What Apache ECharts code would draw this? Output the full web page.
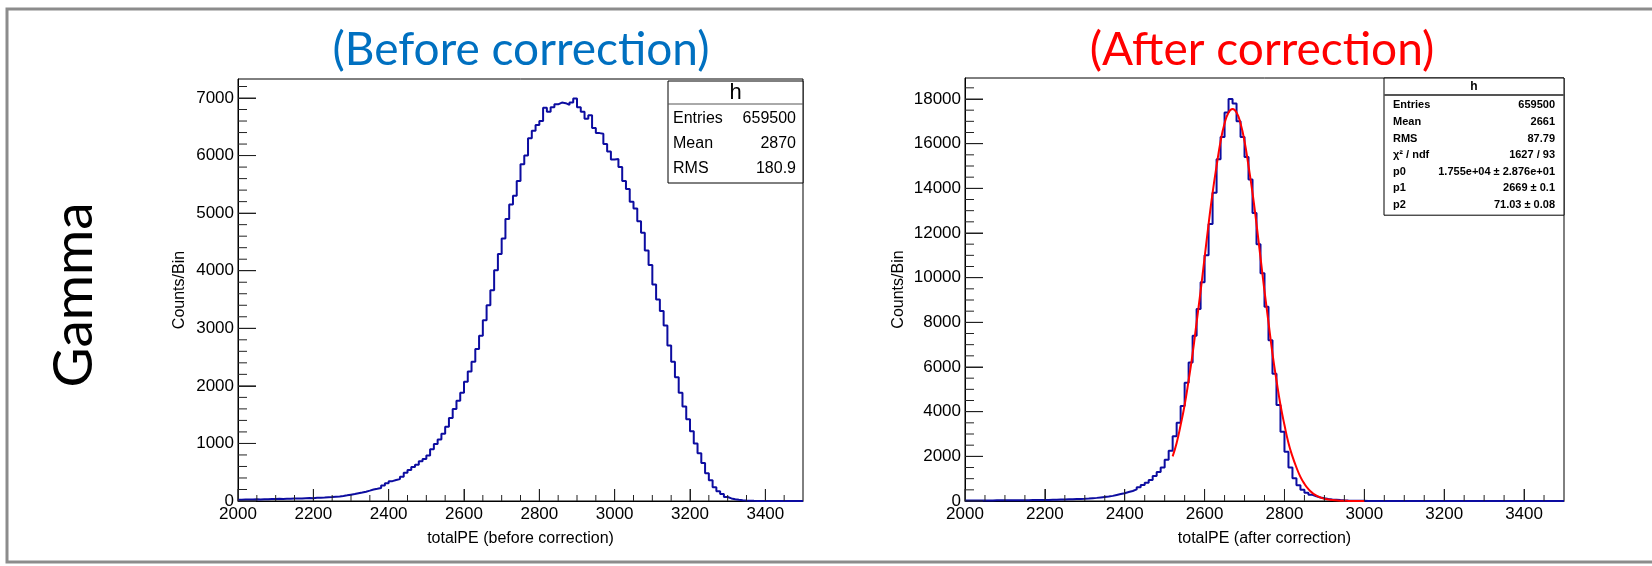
<!DOCTYPE html>
<html>
<head>
<meta charset="utf-8">
<script src="https://cdn.jsdelivr.net/npm/echarts@6/dist/echarts.min.js"></script>
<style>
  html, body { margin: 0; padding: 0; background: #fff; }
  #main { width: 1652px; height: 566px; }
</style>
</head>
<body>
<div id="main"></div>
<script>
// histogram bins: 2000 .. 3500, 10 wide
const binStart = 2000;
const binWidth = 10;

// totalPE (before correction), counts per bin
const beforeCounts = [
  20, 25, 28, 25, 30, 28, 32, 30, 35, 33,
  38, 36, 40, 38, 42, 45, 42, 48, 50, 48,
  55, 58, 60, 64, 68, 74, 80, 88, 98, 110,
  122, 135, 148, 162, 180, 200, 212, 225, 270, 310,
  345, 365, 380, 420, 490, 540, 590, 630, 690, 730,
  790, 900, 990, 1070, 1170, 1290, 1440, 1600, 1740, 1880,
  2070, 2250, 2420, 2640, 2870, 3140, 3400, 3660, 4010, 4290,
  4560, 4900, 5150, 5300, 5560, 5850, 6000, 6300, 6430, 6530,
  6600, 6830, 6760, 6840, 6890, 6920, 6910, 6880, 6920, 6990,
  6840, 6760, 6640, 6700, 6480, 6390, 6380, 6200, 6070, 5930,
  5940, 5800, 5560, 5420, 5200, 5080, 4860, 4660, 4350, 4100,
  3760, 3500, 3300, 3050, 2700, 2420, 2150, 1880, 1640, 1420,
  1210, 1000, 830, 660, 480, 360, 240, 170, 120, 70,
  45, 30, 20, 13, 8, 5, 3, 2, 1, 0,
  0, 0, 0, 0, 0, 0, 0, 0, 0, 0
];

// totalPE (after correction)
const afterCounts = [
  20, 22, 22, 24, 24, 26, 26, 28, 28, 30,
  30, 32, 32, 34, 36, 38, 40, 42, 44, 47,
  50, 55, 60, 65, 70, 75, 80, 88, 95, 102,
  110, 125, 140, 160, 180, 200, 230, 270, 310, 350,
  400, 450, 520, 620, 720, 820, 940, 1120, 1300, 1500,
  1850, 2250, 2900, 3500, 4250, 5300, 6200, 7400, 8600, 9800,
  11000, 12400, 13800, 15300, 16300, 17400, 18000, 17800, 17000, 16300,
  15400, 14400, 12900, 11500, 10200, 8700, 7200, 5700, 4300, 3100,
  2200, 1500, 1020, 700, 500, 370, 280, 210, 160, 120,
  90, 70, 55, 40, 30, 22, 16, 12, 9, 7,
  5, 4, 3, 3, 2, 2, 1, 1, 1, 1,
  0, 0, 0, 0, 0, 0, 0, 0, 0, 0,
  0, 0, 0, 0, 0, 0, 0, 0, 0, 0,
  0, 0, 0, 0, 0, 0, 0, 0, 0, 0,
  0, 0, 0, 0, 0, 0, 0, 0, 0, 0
];

// gaussian fit curve (red)
const fitX = [2520, 2530, 2540, 2550, 2560, 2570, 2580, 2590, 2600, 2610,
  2620, 2630, 2640, 2650, 2660, 2670, 2680, 2690, 2700, 2710,
  2720, 2730, 2740, 2750, 2760, 2770, 2780, 2790, 2800, 2810,
  2820, 2830, 2840, 2850, 2860, 2870, 2880, 2890, 2900, 2920,
  2940, 2960, 2980, 3000];
const fitY = [2000, 2600, 3400, 4300, 5400, 6600, 8000, 9400, 10900, 12400,
  13800, 15000, 16100, 16900, 17400, 17550, 17400, 16900, 16100, 15000,
  13800, 12400, 10900, 9400, 8000, 6600, 5400, 4300, 3400, 2600,
  2000, 1500, 1080, 770, 530, 360, 240, 160, 100, 40,
  15, 5, 2, 0];

const xTicks = [2000, 3500, 200, 50];   // min, max, major, minor
const yBefore = [0, 7330, 1000, 200];
const yAfter = [0, 18940, 2000, 500];

const statsBefore = [['Entries', '659500'], ['Mean', '2870'], ['RMS', '180.9']];
const statsAfter = [['Entries', '659500'], ['Mean', '2661'], ['RMS', '87.79'],
  ['χ² / ndf', '1627 / 93'], ['p0', '1.755e+04 ± 2.876e+01'],
  ['p1', '2669 ± 0.1'], ['p2', '71.03 ± 0.08']];

function histData(counts) {
  let d = [];
  for (let i = 0; i < counts.length; i++) {
    d.push([binStart + i * binWidth, counts[i]]);
  }
  d.push([binStart + counts.length * binWidth, counts[counts.length - 1]]);
  return d;
}

// [value, isMajor] for every tick of an axis spec
function tickList(t) {
  let out = [];
  for (let v = t[0]; v < t[1]; v += t[3]) {
    out.push([v, (v - t[0]) % t[2] === 0 ? 1 : 0]);
  }
  return out;
}

const FONT = 'Liberation Sans, Arial, Helvetica, sans-serif';
const plain = function (v) { return String(v); };

function mainX(grid, name) {
  return {
    type: 'value', gridIndex: grid, position: 'bottom', min: xTicks[0], max: xTicks[1], interval: xTicks[2],
    name: name, nameLocation: 'middle', nameGap: 30,
    nameTextStyle: {color: '#000', fontSize: 16, fontFamily: FONT},
    axisLine: {show: true, onZero: false, lineStyle: {color: '#000', width: 1}},
    axisTick: {show: true, inside: true, length: 12, lineStyle: {color: '#222', width: 1}},
    axisLabel: {color: '#000', fontSize: 17, fontFamily: FONT, margin: 5, showMaxLabel: false, formatter: plain},
    splitLine: {show: false}
  };
}
function mainY(grid, t, gap) {
  return {
    type: 'value', gridIndex: grid, position: 'left', min: t[0], max: t[1], interval: t[2],
    name: 'Counts/Bin', nameLocation: 'middle', nameGap: gap, nameRotate: 90,
    nameTextStyle: {color: '#000', fontSize: 16, fontFamily: FONT},
    axisLine: {show: true, onZero: false, lineStyle: {color: '#000', width: 1}},
    axisTick: {show: true, inside: true, length: 18, lineStyle: {color: '#222', width: 1}},
    axisLabel: {color: '#000', fontSize: 17, fontFamily: FONT, margin: 4, showMaxLabel: false, formatter: plain},
    splitLine: {show: false}
  };
}

// ROOT style inward ticks (major + minor) as thin rect symbols on the axes
function tickMarks(grid, yt) {
  let d = [];
  tickList(xTicks).forEach(function (t) {
    let len = t[1] ? 12 : 6;
    d.push({value: [t[0], yt[0]], symbolSize: [1, len], symbolOffset: [0, -len / 2]});
  });
  tickList(yt).forEach(function (t) {
    let len = t[1] ? 18 : 9;
    d.push({value: [xTicks[0], t[0]], symbolSize: [len, 1], symbolOffset: [len / 2, 0]});
  });
  return {
    type: 'scatter', xAxisIndex: grid, yAxisIndex: grid, symbol: 'rect', silent: true,
    clip: false, z: 6, itemStyle: {color: '#222', opacity: 1}, data: d
  };
}

function statsBox(x, y, w, headH, rowH, rows, size, bold, headSize) {
  let els = [];
  els.push({type: 'rect', shape: {x: x, y: y, width: w, height: headH + rowH * rows.length + 4},
    style: {fill: '#fff', stroke: '#000', lineWidth: 1}, z: 100});
  els.push({type: 'line', shape: {x1: x, y1: y + headH, x2: x + w, y2: y + headH},
    style: {stroke: '#555', lineWidth: bold ? 2 : 1}, z: 101});
  els.push({type: 'text', x: x + w / 2, y: y + headH / 2, z: 102,
    style: {text: 'h', fill: '#000', font: (bold ? 'bold ' : '') + headSize + 'px ' + FONT,
      align: 'center', verticalAlign: 'middle'}});
  rows.forEach(function (r, i) {
    let cy = y + headH + rowH * (i + 0.5) + 2;
    els.push({type: 'text', x: x + (bold ? 9 : 5), y: cy, z: 102,
      style: {text: r[0], fill: '#000', font: (bold ? 'bold ' : '') + size + 'px ' + FONT,
        align: 'left', verticalAlign: 'middle'}});
    els.push({type: 'text', x: x + w - (bold ? 9 : 7), y: cy, z: 102,
      style: {text: r[1], fill: '#000', font: (bold ? 'bold ' : '') + size + 'px ' + FONT,
        align: 'right', verticalAlign: 'middle'}});
  });
  return els;
}

let chart = echarts.init(document.getElementById('main'), null, {renderer: 'canvas'});

// outer slide frame
let graphics = [
  {type: 'polyline', shape: {points: [[1700, 9], [7, 9], [7, 562], [1700, 562]]},
    style: {fill: null, stroke: '#8c8c8c', lineWidth: 3}, z: 1, silent: true},
  {type: 'text', x: 521, y: 50, z: 10,
    style: {text: '(Before correction)', fill: '#0070c0', font: '46px Lato, ' + FONT,
      align: 'center', verticalAlign: 'middle'}},
  {type: 'text', x: 1262, y: 50, z: 10,
    style: {text: '(After correction)', fill: '#ff0000', font: '46px Lato, ' + FONT,
      align: 'center', verticalAlign: 'middle'}},
  {type: 'text', x: 74, y: 295, rotation: Math.PI / 2, z: 10,
    style: {text: 'Gamma', fill: '#000', font: '55px Lato, ' + FONT,
      align: 'center', verticalAlign: 'middle'}}
];
graphics = graphics.concat(statsBox(668, 81, 135, 23, 25, statsBefore, 16, false, 22));
graphics = graphics.concat(statsBox(1384, 78, 180, 17, 16.6, statsAfter, 11, true, 12));

let option = {
  backgroundColor: '#fff',
  animation: false,
  grid: [
    {left: 238, top: 79, width: 565, height: 422, show: true, borderColor: '#000', borderWidth: 1},
    {left: 965, top: 78, width: 599, height: 423, show: true, borderColor: '#000', borderWidth: 1}
  ],
  xAxis: [
    mainX(0, 'totalPE (before correction)'),
    mainX(1, 'totalPE (after correction)')
  ],
  yAxis: [
    mainY(0, yBefore, 50),
    mainY(1, yAfter, 58)
  ],
  series: [
    tickMarks(0, yBefore),
    tickMarks(1, yAfter),
    {
      name: 'before', type: 'line', step: 'end', xAxisIndex: 0, yAxisIndex: 0,
      showSymbol: false, symbol: 'none', z: 4,
      lineStyle: {color: '#0c0ca0', width: 2},
      data: histData(beforeCounts)
    },
    {
      name: 'after', type: 'line', step: 'end', xAxisIndex: 1, yAxisIndex: 1,
      showSymbol: false, symbol: 'none', z: 4,
      lineStyle: {color: '#0c0ca0', width: 2},
      data: histData(afterCounts)
    },
    {
      name: 'fit', type: 'line', xAxisIndex: 1, yAxisIndex: 1, smooth: true,
      showSymbol: false, symbol: 'none', z: 5,
      lineStyle: {color: '#ff0000', width: 2},
      data: fitX.map(function (x, i) { return [x, fitY[i]]; })
    }
  ],
  graphic: graphics
};
chart.setOption(option);
</script>
</body>
</html>
